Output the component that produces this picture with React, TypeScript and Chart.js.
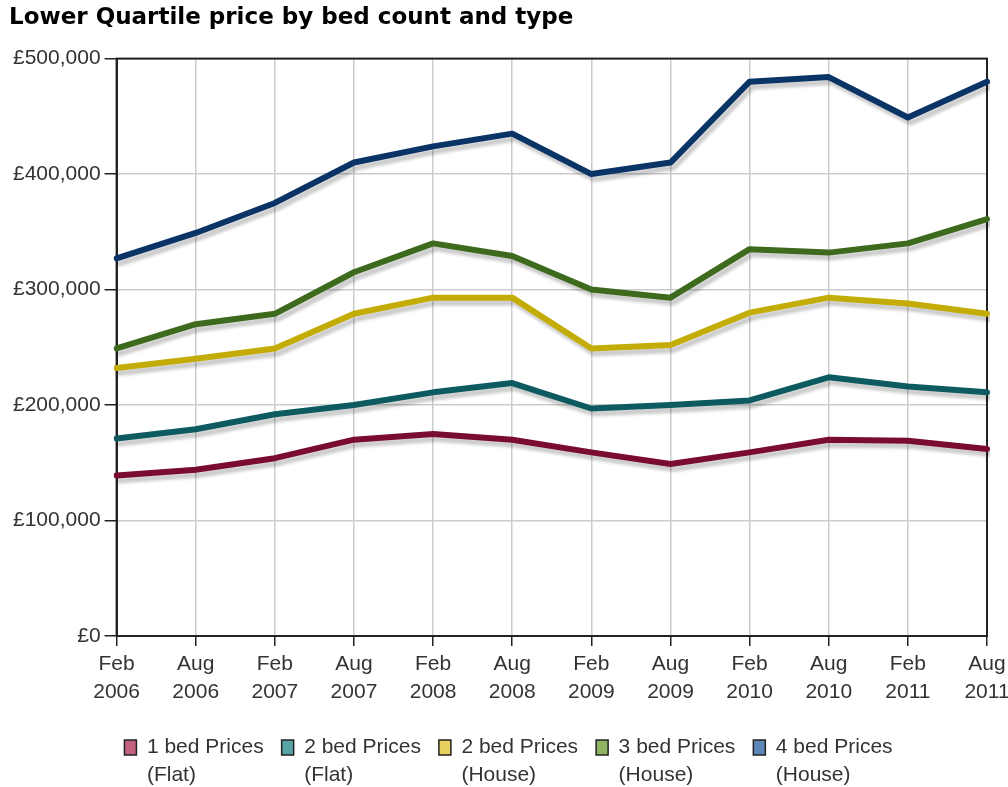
import React, { useEffect, useRef } from "react";
import { Chart, registerables } from "chart.js";

Chart.register(...registerables);

const categories: string[][] = [
  ["Feb", "2006"], ["Aug", "2006"], ["Feb", "2007"], ["Aug", "2007"],
  ["Feb", "2008"], ["Aug", "2008"], ["Feb", "2009"], ["Aug", "2009"],
  ["Feb", "2010"], ["Aug", "2010"], ["Feb", "2011"], ["Aug", "2011"],
];

const oneBedFlat = [139000, 144000, 154000, 170000, 175000, 170000, 159000, 149000, 159000, 170000, 169000, 162000];
const twoBedFlat = [171000, 179000, 192000, 200000, 211000, 219000, 197000, 200000, 204000, 224000, 216000, 211000];
const twoBedHouse = [232000, 240000, 249000, 279000, 293000, 293000, 249000, 252000, 280000, 293000, 288000, 279000];
const threeBedHouse = [249000, 270000, 279000, 315000, 340000, 329000, 300000, 293000, 335000, 332000, 340000, 361000];
const fourBedHouse = [327000, 349000, 375000, 410000, 424000, 435000, 400000, 410000, 480000, 484000, 449000, 480000];

const seriesNames = ["1 bed Prices", "2 bed Prices", "2 bed Prices", "3 bed Prices", "4 bed Prices"];
const seriesTypes = ["(Flat)", "(Flat)", "(House)", "(House)", "(House)"];
const lineColors = ["#790c2f", "#0d5b61", "#c4ac06", "#3d6a1c", "#0b3466"];
const legendColors = ["#c3627f", "#5aa3a5", "#e6d160", "#8fb363", "#5d86b8"];

const FONT = "'Liberation Sans', Arial, sans-serif";
const FONT_SIZE = 21;
const LINE_H = 28;

const shadowPlugin = {
  id: "lineShadow",
  beforeDatasetDraw(chart: any) {
    const ctx = chart.ctx;
    ctx.save();
    ctx.shadowColor = "rgba(0,0,0,0.2)";
    ctx.shadowOffsetX = 3;
    ctx.shadowOffsetY = 5;
    ctx.shadowBlur = 3;
  },
  afterDatasetDraw(chart: any) {
    chart.ctx.restore();
  },
};

const framePlugin = {
  id: "frame",
  beforeDatasetsDraw(chart: any) {
    const { ctx, chartArea } = chart;
    ctx.save();
    ctx.strokeStyle = "#222";
    ctx.lineWidth = 2;
    ctx.strokeRect(chartArea.left, chartArea.top, chartArea.right - chartArea.left, chartArea.bottom - chartArea.top);
    ctx.restore();
  },
};

const legendSecondLine = {
  id: "legendSecondLine",
  afterDraw(chart: any) {
    const legend = chart.legend;
    if (!legend || !legend.legendHitBoxes) return;
    const ctx = chart.ctx;
    const boxW = legend.options.labels.boxWidth;
    ctx.save();
    ctx.font = `${FONT_SIZE}px ${FONT}`;
    ctx.fillStyle = "#333";
    ctx.textBaseline = "middle";
    ctx.textAlign = "left";
    legend.legendHitBoxes.forEach((hb: any, i: number) => {
      const x = hb.left + boxW + FONT_SIZE / 2;
      const y = hb.top + hb.height / 2 + LINE_H;
      ctx.fillText(seriesTypes[i], x, y);
    });
    ctx.restore();
  },
};

export default function App() {
  const ref = useRef<HTMLCanvasElement | null>(null);
  useEffect(() => {
    document.body.style.margin = "0";
    const seriesData = [oneBedFlat, twoBedFlat, twoBedHouse, threeBedHouse, fourBedHouse];
    const chart = new Chart(ref.current as HTMLCanvasElement, {
      type: "line",
      data: {
        labels: categories,
        datasets: seriesData.map((d, i) => ({
          label: seriesNames[i] + " " + seriesTypes[i],
          data: d,
          borderColor: lineColors[i],
          backgroundColor: legendColors[i],
          borderWidth: 6,
          pointRadius: 0,
          tension: 0,
          borderJoinStyle: "round" as const,
          borderCapStyle: "round" as const,
          fill: false,
        })),
      },
      options: {
        animation: false,
        responsive: true,
        maintainAspectRatio: false,
        layout: { padding: { left: 9, right: 0, top: 4, bottom: 19 } },
        plugins: {
          title: {
            display: true,
            text: "Lower Quartile price by bed count and type",
            align: "start",
            color: "#000",
            font: { family: "'DejaVu Sans', Verdana, sans-serif", size: 23, weight: "bold" },
            padding: { top: 0, bottom: 27 },
          },
          tooltip: { enabled: false },
          legend: {
            position: "bottom",
            labels: {
              color: "#333",
              font: { family: FONT, size: FONT_SIZE },
              boxWidth: 12,
              boxHeight: 15,
              padding: 18,
              generateLabels: (chart: any) =>
                chart.data.datasets.map((ds: any, i: number) => ({
                  text: seriesNames[i],
                  fillStyle: legendColors[i],
                  strokeStyle: "#222",
                  lineWidth: 1.5,
                  hidden: false,
                  datasetIndex: i,
                  fontColor: "#333",
                })),
            },
          },
        },
        scales: {
          x: {
            offset: false,
            grid: { color: "#cccccc", lineWidth: 1.5, tickColor: "#222", tickLength: 10, drawOnChartArea: true },
            border: { color: "#222", width: 2 },
            ticks: {
              color: "#333",
              font: { family: FONT, size: FONT_SIZE, lineHeight: LINE_H / FONT_SIZE },
              maxRotation: 0,
              autoSkip: false,
              padding: 4,
            },
            afterFit: (scale: any) => {
              scale.height = 83;
              scale.paddingRight = 21;
            },
          },
          y: {
            min: 0,
            max: 500000,
            grid: { color: "#cccccc", lineWidth: 1.5, tickColor: "#222", tickLength: 12 },
            border: { color: "#222", width: 2 },
            ticks: {
              stepSize: 100000,
              color: "#333",
              font: { family: FONT, size: FONT_SIZE },
              padding: 4,
              callback: (v: any) => "£" + Number(v).toLocaleString("en-GB"),
            },
          },
        },
      },
      plugins: [shadowPlugin, framePlugin, legendSecondLine],
    } as any);
    return () => chart.destroy();
  }, []);
  return (
    <div style={{ width: 1008, height: 787, position: "relative" }}>
      <canvas ref={ref} />
    </div>
  );
}
